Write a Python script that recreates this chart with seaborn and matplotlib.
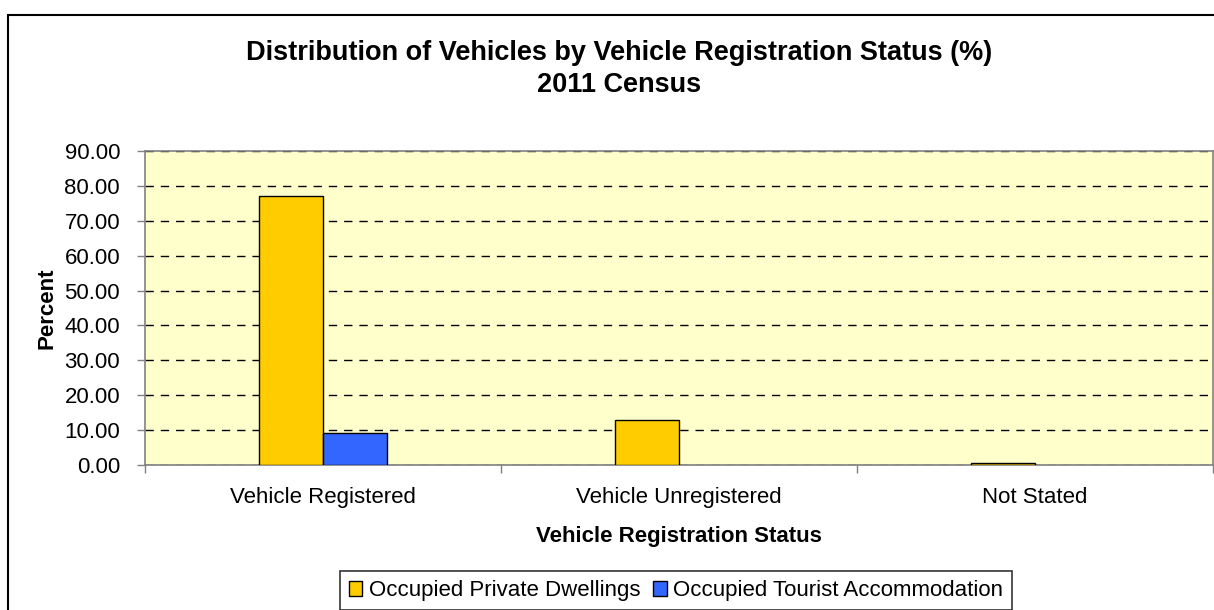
import matplotlib
matplotlib.use("Agg")
import matplotlib.pyplot as plt
import matplotlib.patches as mpatches
import seaborn as sns
import pandas as pd
import numpy as np

categories = ["Vehicle Registered", "Vehicle Unregistered", "Not Stated"]
series_names = ["Occupied Private Dwellings", "Occupied Tourist Accommodation"]
private_dwellings = [77.1, 12.9, 0.45]
tourist_accommodation = [9.2, 0.0, 0.0]
y_ticks = [0, 10, 20, 30, 40, 50, 60, 70, 80, 90]

df = pd.DataFrame({
    "Status": categories * 2,
    "Series": [series_names[0]] * 3 + [series_names[1]] * 3,
    "Percent": private_dwellings + tourist_accommodation,
})

sns.set_style("white")
plt.rcParams["font.family"] = ["Liberation Sans", "DejaVu Sans"]
plt.rcParams["text.color"] = "black"
plt.rcParams["axes.labelcolor"] = "black"
plt.rcParams["xtick.color"] = "black"
plt.rcParams["ytick.color"] = "black"

fig = plt.figure(figsize=(12.14, 6.10), dpi=100)
ax = fig.add_axes([145 / 1214, 1 - 465 / 610, (1213 - 145) / 1214, (465 - 151) / 610])

# outer chart border
border = mpatches.Rectangle((8 / 1214, -0.1), 1.2, 1 - 15 / 610 + 0.1,
                            transform=fig.transFigure, fill=False,
                            edgecolor="black", linewidth=1.5, zorder=0)
fig.patches.append(border)

ax.set_facecolor("#FFFFCC")
sns.barplot(data=df, x="Status", y="Percent", hue="Series", order=categories,
            hue_order=series_names, palette=["#FFCC00", "#3366FF"],
            width=0.36, gap=0, edgecolor="black", linewidth=1,
            saturation=1, ax=ax, legend=True, zorder=3)
for p in ax.patches:
    if p.get_height() == 0:
        p.set_linewidth(0)

ax.set_xlim(-0.5, 2.5)
ax.set_ylim(0, 90)
ax.set_yticks(y_ticks)
ax.set_yticklabels([f"{v:.2f}" for v in y_ticks], fontsize=16)
ax.set_xticks(range(len(categories)))
ax.set_xticklabels(categories, fontsize=16)
ax.set_xticks([-0.5, 0.5, 1.5, 2.5], minor=True)
ax.tick_params(axis="x", which="major", length=0, pad=16)
ax.tick_params(axis="x", which="minor", length=6, color="#808080", width=1, direction="out", bottom=True)
ax.tick_params(axis="y", which="major", length=6, color="#808080", width=1, direction="out", left=True, pad=12)

ax.yaxis.grid(True, linestyle=(0, (6, 5)), color="black", linewidth=1, zorder=1)
ax.set_axisbelow(True)
for s in ax.spines.values():
    s.set_color("#808080")
    s.set_linewidth(1.2)
    s.set_visible(True)

ax.set_xlabel("Vehicle Registration Status", fontsize=16, fontweight="bold", labelpad=13)
ax.set_ylabel("Percent", fontsize=16, fontweight="bold", labelpad=5)

fig.text(0.51, 1 - 69 / 610, "Distribution of Vehicles by Vehicle Registration Status (%)\n2011 Census",
         ha="center", va="center", fontsize=19.5, fontweight="bold", linespacing=1.3)

ax.legend_.remove()
handles = [mpatches.Patch(facecolor=c, edgecolor="black", linewidth=1) for c in ["#FFCC00", "#3366FF"]]
leg = fig.legend(handles, series_names, loc="upper center",
                 bbox_to_anchor=(676 / 1214, 1 - 567 / 610), ncol=2, fontsize=16,
                 frameon=True, fancybox=False, edgecolor="black",
                 handlelength=0.6, handleheight=0.6, handletextpad=0.3,
                 columnspacing=0.6, borderpad=0.4, borderaxespad=0.2)
leg.get_frame().set_linewidth(1.2)

fig.savefig("out.png", dpi=100, facecolor="white")
